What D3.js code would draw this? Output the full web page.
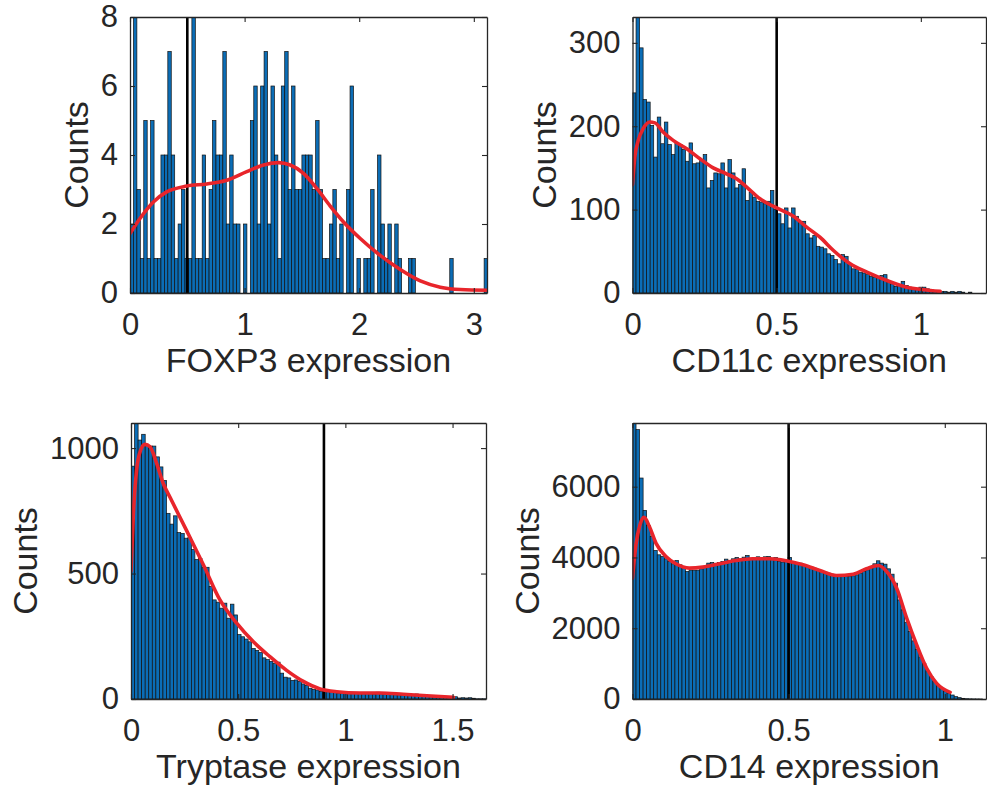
<!DOCTYPE html>
<html>
<head>
<meta charset="utf-8">
<script src="https://cdn.jsdelivr.net/npm/d3@7"></script>
<style>
  body { margin: 0; background: #fff; }
  text { fill: #262626; }
</style>
</head>
<body>
<script>
// ---- data ----
// FOXP3 histogram (bin width 0.03)
var foxp3Counts = [2, 8, 3, 1, 5, 1, 5, 1, 1, 4, 4, 7, 4, 1, 2, 3, 1, 1, 8, 1,
  1, 4, 1, 3, 5, 4, 4, 7, 2, 4, 2, 2, 0, 2, 0, 5, 6, 2, 6, 7,
  2, 6, 4, 1, 6, 7, 3, 6, 3, 3, 4, 4, 4, 3, 5, 3, 1, 1, 2, 3,
  1, 2, 0, 3, 6, 0, 1, 0, 1, 1, 3, 0, 4, 2, 1, 2, 0, 2, 1, 0,
  0, 1, 1, 0, 0, 0, 0, 0, 0, 0, 0, 0, 0, 1, 0, 0, 0, 0, 0, 0,
  0, 0, 0, 1];
var foxp3FitX = [0, 0.087, 0.204, 0.32, 0.495, 0.67, 0.844, 1.019, 1.165, 1.296, 1.398,
  1.514, 1.63, 1.747, 1.863, 2.009, 2.183, 2.358, 2.533, 2.707, 2.882, 3.115];
var foxp3FitY = [1.72, 2.16, 2.64, 2.93, 3.10, 3.16, 3.27, 3.52, 3.71, 3.78, 3.71,
  3.47, 3.03, 2.52, 2.06, 1.58, 1.09, 0.68, 0.35, 0.17, 0.10, 0.08];

// CD11c histogram (100 bins)
var cd11cCounts = [240, 345, 294, 232, 229, 201, 163, 211, 179, 205,
  178, 166, 180, 178, 172, 158, 180, 155, 156, 159,
  166, 126, 135, 144, 143, 156, 126, 160, 144, 126,
  130, 149, 111, 121, 115, 110, 109, 107, 110, 123,
  100, 95, 83, 102, 78, 102, 92, 86, 86, 71,
  66, 69, 56, 55, 53, 47, 45, 40, 35, 46,
  44, 35, 29, 28, 25, 24, 22, 20, 19, 20,
  21, 22, 13, 11, 8, 10, 14, 9, 7, 6,
  5, 7, 7, 5, 4, 3, 3, 2, 2, 1,
  2, 1, 2, 1, 0, 1, 0, 0, 0, 0];
var cd11cFitX = [0, 0.008, 0.02, 0.037, 0.06, 0.078, 0.106, 0.141, 0.188, 0.234, 0.28, 0.326, 0.361,
  0.396, 0.442, 0.5, 0.558, 0.604, 0.65, 0.697, 0.755, 0.813, 0.882, 0.951, 1.009, 1.067];
var cd11cFitY = [130, 163, 183, 197, 205, 204, 193, 183, 173, 161, 150, 143, 137,
  127, 113, 102, 92, 79, 67, 51, 35, 25, 15, 7, 4, 2];

// Tryptase histogram (100 bins)
var tryptaseCounts = [928, 1130, 1032, 1055, 1012, 1008, 1008, 965, 925, 871,
  740, 697, 730, 663, 660, 641, 643, 596, 556, 560,
  525, 525, 449, 395, 386, 362, 382, 322, 378, 335,
  257, 248, 239, 228, 201, 194, 185, 164, 157, 150,
  141, 147, 103, 87, 84, 74, 76, 70, 60, 54,
  43, 38, 36, 30, 38, 34, 30, 27, 24, 23,
  24, 23, 23, 24, 23, 21, 23, 21, 20, 27,
  21, 20, 20, 19, 17, 17, 16, 16, 16, 16,
  20, 15, 15, 13, 12, 11, 9, 8, 7, 7,
  5, 9, 4, 5, 4, 5, 3, 1, 1, 1];
var tryptaseFitX = [0, 0.011, 0.026, 0.045, 0.065, 0.089, 0.12, 0.151, 0.182, 0.26, 0.337, 0.415,
  0.493, 0.571, 0.649, 0.726, 0.804, 0.882, 0.96, 1.068, 1.162, 1.27, 1.38, 1.504];
var tryptaseFitY = [509, 737, 911, 992, 1015, 1005, 938, 858, 804, 670, 536, 395,
  302, 228, 168, 114, 70, 40, 29, 24, 24, 19, 13, 7];

// CD14 histogram (100 bins)
var cd14Counts = [8100, 7613, 6245, 5330, 4905, 4594, 4198, 4075, 4028, 3962,
  3887, 3820, 3915, 3792, 3726, 3604, 3641, 3641, 3641, 3679,
  3717, 3840, 3858, 3811, 3858, 3887, 3953, 3915, 3962, 4000,
  3962, 4009, 4057, 3981, 4000, 4019, 4000, 4019, 4028, 3981,
  4000, 3887, 3868, 3887, 4000, 3887, 3858, 3840, 3792, 3745,
  3745, 3698, 3651, 3604, 3585, 3557, 3528, 3509, 3462, 3462,
  3462, 3462, 3481, 3509, 3557, 3604, 3651, 3717, 3821, 3906,
  3840, 3811, 3679, 3528, 3274, 2800, 2519, 2170, 1906, 1642,
  1406, 1189, 1009, 792, 632, 491, 377, 302, 226, 170,
  113, 66, 38, 19, 9, 5, 3, 2, 1, 0];
var cd14FitX = [0, 0.011, 0.024, 0.037, 0.054, 0.075, 0.107, 0.139, 0.182, 0.225, 0.278, 0.332, 0.385,
  0.439, 0.492, 0.546, 0.6, 0.653, 0.707, 0.749, 0.787, 0.814, 0.846, 0.878, 0.91, 0.942, 0.974, 1.017];
var cd14FitY = [3415, 4358, 4925, 5132, 4877, 4406, 4028, 3821, 3698, 3726, 3821, 3915, 3962,
  3962, 3906, 3792, 3632, 3491, 3528, 3679, 3774, 3604, 3132, 2283, 1528, 868, 443, 189];

// thresholds, axis limits and ticks
var gates = [0.5, 0.5, 0.9, 0.5];
var xMaxes = [3.115, 1.226, 1.656, 1.132];
var yMaxes = [8, 331, 1100, 7800];
var xTickValues = [[0, 1, 2, 3], [0, 0.5, 1], [0, 0.5, 1, 1.5], [0, 0.5, 1]];
var yTickValues = [[0, 2, 4, 6, 8], [0, 100, 200, 300], [0, 500, 1000], [0, 2000, 4000, 6000]];
var xLabels = ["FOXP3 expression", "CD11c expression", "Tryptase expression", "CD14 expression"];

var panels = [
  { counts: foxp3Counts, binWidth: 0.03, fitX: foxp3FitX, fitY: foxp3FitY, left: 130, top: 17, width: 357 },
  { counts: cd11cCounts, binWidth: xMaxes[1] / 100, fitX: cd11cFitX, fitY: cd11cFitY, left: 632.5, top: 17, width: 353.5 },
  { counts: tryptaseCounts, binWidth: xMaxes[2] / 100, fitX: tryptaseFitX, fitY: tryptaseFitY, left: 131, top: 423, width: 355 },
  { counts: cd14Counts, binWidth: xMaxes[3] / 100, fitX: cd14FitX, fitY: cd14FitY, left: 632.5, top: 423, width: 353.5 }
];
var plotHeight = 276;
var font = "'Liberation Sans', Arial, Helvetica, sans-serif";
var ink = "#262626";

var svg = d3.select("body").append("svg")
  .attr("width", 987)
  .attr("height", 792);

panels.forEach(function (p, k) {
  var h = plotHeight;
  var g = svg.append("g").attr("transform", "translate(" + p.left + "," + p.top + ")");

  var x = d3.scaleLinear().domain([0, xMaxes[k]]).range([0, p.width]);
  var y = d3.scaleLinear().domain([0, yMaxes[k]]).range([h, 0]);

  g.append("clipPath").attr("id", "clip" + k)
    .append("rect").attr("width", p.width).attr("height", h);
  var plot = g.append("g").attr("clip-path", "url(#clip" + k + ")");

  // bars
  var bins = p.counts.map(function (c, i) {
    return { x0: i * p.binWidth, x1: (i + 1) * p.binWidth, n: c };
  }).filter(function (d) { return d.n > 0; });

  plot.selectAll("rect.bar")
    .data(bins)
    .enter().append("rect")
    .attr("class", "bar")
    .attr("x", function (d) { return x(d.x0); })
    .attr("width", function (d) { return x(d.x1) - x(d.x0); })
    .attr("y", function (d) { return y(d.n); })
    .attr("height", function (d) { return h - y(d.n); })
    .attr("fill", "#0b6db6")
    .attr("stroke", "#111")
    .attr("stroke-width", 0.7);

  // threshold line
  plot.append("line")
    .attr("x1", x(gates[k])).attr("x2", x(gates[k]))
    .attr("y1", 0).attr("y2", h)
    .attr("stroke", "#000")
    .attr("stroke-width", 2.6);

  // fitted density
  var fit = p.fitX.map(function (v, i) { return [v, p.fitY[i]]; });
  plot.append("path")
    .datum(fit)
    .attr("d", d3.line()
      .x(function (d) { return x(d[0]); })
      .y(function (d) { return y(d[1]); })
      .curve(d3.curveMonotoneX))
    .attr("fill", "none")
    .attr("stroke", "#e8252b")
    .attr("stroke-width", 3.6)
    .attr("stroke-linecap", "round");

  // axes, ticks pointing inwards on all four sides
  var fmt = function (d) { return String(d); };
  var axes = [
    g.append("g").attr("transform", "translate(0," + h + ")")
      .call(d3.axisBottom(x).tickValues(xTickValues[k]).tickFormat(fmt).tickSize(-5).tickSizeOuter(0).tickPadding(20)),
    g.append("g")
      .call(d3.axisTop(x).tickValues(xTickValues[k]).tickFormat("").tickSize(-5).tickSizeOuter(0)),
    g.append("g")
      .call(d3.axisLeft(y).tickValues(yTickValues[k]).tickFormat(fmt).tickSize(-5).tickSizeOuter(0).tickPadding(12)),
    g.append("g").attr("transform", "translate(" + p.width + ",0)")
      .call(d3.axisRight(y).tickValues(yTickValues[k]).tickFormat("").tickSize(-5).tickSizeOuter(0))
  ];
  axes.forEach(function (a) {
    a.attr("font-size", 31).attr("font-family", font);
    a.select(".domain").attr("stroke", ink).attr("stroke-width", 1.3);
    a.selectAll(".tick line").attr("stroke", ink).attr("stroke-width", 1.1);
    a.selectAll(".tick text").attr("fill", ink);
  });

  // axis labels
  g.append("text")
    .attr("x", p.width / 2)
    .attr("y", h + 79)
    .attr("text-anchor", "middle")
    .attr("font-family", font)
    .attr("font-size", 34)
    .text(xLabels[k]);

  // y label sits just left of the widest tick label
  var minLeft = 0;
  axes[2].selectAll(".tick text").each(function () {
    minLeft = Math.min(minLeft, this.getBBox().x);
  });
  g.append("text")
    .attr("transform", "translate(" + (minLeft - 13) + "," + (h / 2) + ") rotate(-90)")
    .attr("text-anchor", "middle")
    .attr("font-family", font)
    .attr("font-size", 34)
    .text("Counts");
});
</script>
</body>
</html>
